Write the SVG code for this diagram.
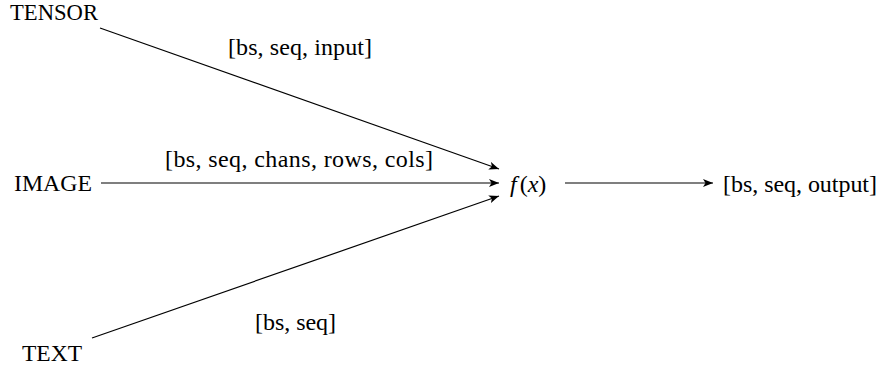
<svg xmlns="http://www.w3.org/2000/svg" width="885" height="370" viewBox="0 0 885 370">
  <style>
    text { font-family: "Liberation Serif", "Times New Roman", serif; font-size: 24px; fill: #000; }
    .it { font-style: italic; }
    .edge { stroke: #000; stroke-width: 1.2; fill: none; marker-end: url(#arrow); }
  </style>
  <defs>
    <marker id="arrow" viewBox="0 0 10 8" refX="10" refY="4" markerWidth="10" markerHeight="8" markerUnits="userSpaceOnUse" orient="auto">
      <path d="M0,0 L10,4 L0,8 L2.5,4 Z" fill="#000"/>
    </marker>
  </defs>
  <rect width="885" height="370" fill="#fff"/>

  <g id="connectors">
    <line class="edge" x1="100" y1="28" x2="499" y2="169"/>
    <line class="edge" x1="101" y1="183" x2="499" y2="183"/>
    <line class="edge" x1="92" y1="338" x2="499" y2="196"/>
    <line class="edge" x1="565" y1="183" x2="713" y2="183"/>
  </g>

  <g id="tensor"><text x="10" y="20" textLength="88" lengthAdjust="spacingAndGlyphs">TENSOR</text></g>
  <g id="image"><text x="14" y="191" textLength="78" lengthAdjust="spacingAndGlyphs">IMAGE</text></g>
  <g id="text"><text x="22" y="361" textLength="60" lengthAdjust="spacingAndGlyphs">TEXT</text></g>
  <g id="fx"><text x="510" y="192" font-size="29"><tspan class="it">f</tspan><tspan dx="3">(</tspan><tspan class="it">x</tspan>)</text></g>
  <g id="output"><text x="723" y="192" textLength="154">[bs, seq, output]</text></g>

  <g id="labels">
    <text x="228" y="55" textLength="144">[bs, seq, input]</text>
    <text x="165" y="167" textLength="268">[bs, seq, chans, rows, cols]</text>
    <text x="255" y="330" textLength="81">[bs, seq]</text>
  </g>
</svg>
